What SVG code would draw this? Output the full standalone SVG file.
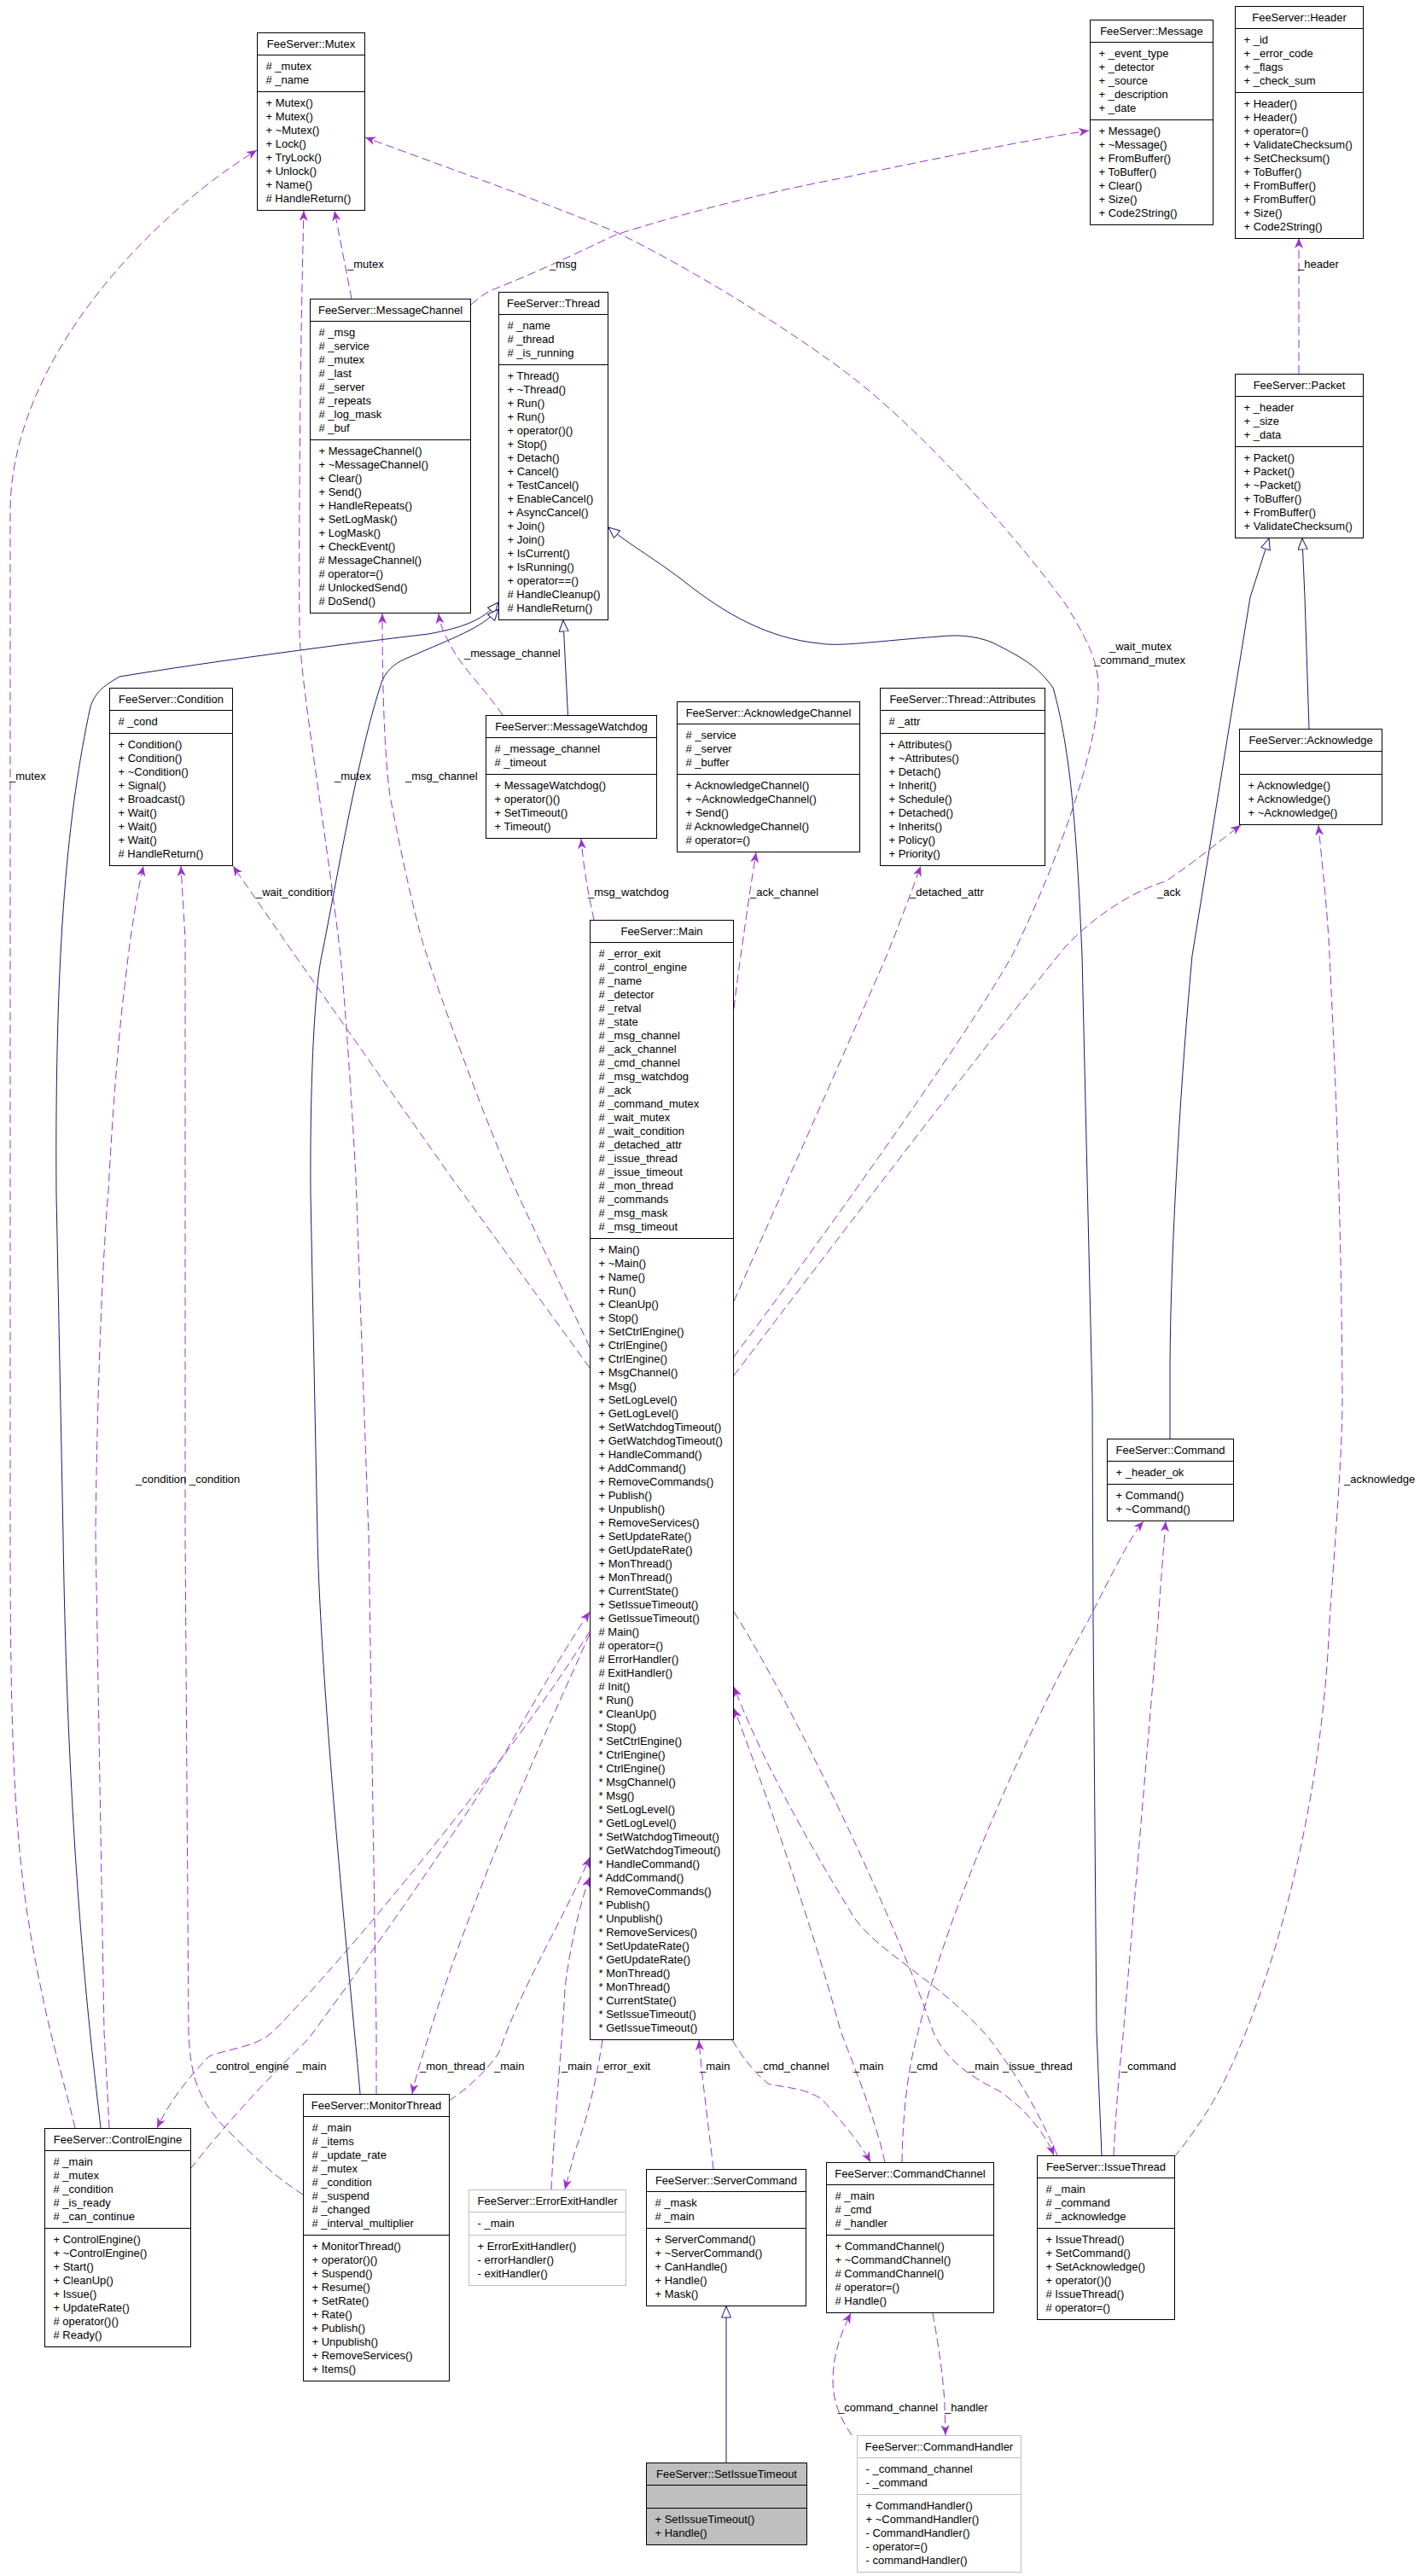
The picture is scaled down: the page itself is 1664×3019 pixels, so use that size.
<svg xmlns="http://www.w3.org/2000/svg" width="1664" height="3019" viewBox="0 0 1664 3019">
<style>
.t{font-family:"Liberation Sans",Arial,Helvetica,sans-serif;font-size:13px;fill:#000}
.c{text-anchor:middle}
.box{fill:#fff;stroke:#000;stroke-width:1}
.gb{fill:#fff;stroke:#bfbfbf;stroke-width:1}
.fill{fill:#bfbfbf;stroke:#000;stroke-width:1}
.sep{stroke:#000;stroke-width:1}
.gsep{stroke:#bfbfbf;stroke-width:1}
.e{fill:none;stroke:#9a32cd;stroke-width:1;stroke-dasharray:10,5;marker-end:url(#arr)}
.i{fill:none;stroke:#191970;stroke-width:1;marker-end:url(#tri)}
</style>
<defs>
<marker id="arr" viewBox="0 0 12 10" refX="12" refY="5" markerWidth="12" markerHeight="10" orient="auto" markerUnits="userSpaceOnUse"><path d="M0,0 L12,5 L0,10 L3.5,5 z" fill="#9a32cd"/></marker>
<marker id="tri" viewBox="0 0 14 12" refX="13.5" refY="6" markerWidth="14" markerHeight="12" orient="auto" markerUnits="userSpaceOnUse"><path d="M0.5,0.5 L13.5,6 L0.5,11.5 z" fill="#fff" stroke="#191970" stroke-width="1"/></marker>
</defs>
<rect x="0" y="0" width="1664" height="3019" fill="#fff"/>

<g id="edges">
<path class="i" d="M665.5,838.5 L660,727"/>
<path class="i" d="M118,2494 C110,2420 80,2200 74,1800 L66,1400 C64,1100 80,950 106,828 C112,812 118,806 140,793 C250,775 400,755 502,743 C540,736 565,728 584,706"/>
<path class="i" d="M422,2454 C418,2400 376,2000 372,1800 L364,1400 C363,1250 370,1150 377,1120 C395,1030 420,880 448,797 C456,782 465,776 480,770 C530,748 565,736 584,714"/>
<path class="i" d="M1291,2526 L1285,2380 L1281,1900 L1280,1640 L1268,1120 C1262,980 1255,880 1234,806 C1215,780 1200,772 1163,753 C1140,744 1120,744 1100,746 C1020,752 985,758 960,754 C900,748 850,720 800,680 C760,650 740,640 713,618"/>
<path class="i" d="M1371,1686 L1371,1600 C1372,1450 1385,1250 1397,1120 L1465,700 L1487,631"/>
<path class="i" d="M1534,854 L1529,700 L1526,631"/>
<path class="i" d="M851,2886 L851,2703"/>

<path class="e" d="M412,350 L392,247"/>
<path class="e" d="M441,2454 L441,2380 L432,1800 L417,1380 C410,1250 402,1150 399,1120 C380,960 352,800 351,740 C350,600 352,400 356,247"/>
<path class="e" d="M88,2494 C75,2440 60,2390 50,2340 C20,2200 12,2100 12,1800 L12,600 C12,420 180,250 301,176"/>
<path class="e" d="M860,1590 C950,1470 1130,1220 1186,1120 C1240,1010 1285,880 1287,813 C1288,780 1280,760 1250,710 C1200,640 1080,500 980,428 C900,370 800,310 722,272 C620,230 520,195 428,161"/>
<path class="e" d="M691,1579 C650,1490 620,1430 598,1380 C560,1290 520,1180 497,1110 C485,1070 470,1000 457,933 C450,880 448,800 448,719"/>
<path class="e" d="M589,838 C570,810 540,780 530,760 C522,745 516,735 514,719"/>
<path class="e" d="M552,357 C565,345 575,340 584,337 C650,310 700,285 722,275 C800,250 900,225 980,210 C1100,185 1200,165 1276,153"/>
<path class="e" d="M1522,438 L1522,279"/>
<path class="e" d="M696,1078 C690,1050 684,1020 681,983"/>
<path class="e" d="M860,1182 C866,1130 874,1080 878,1050 L886,999"/>
<path class="e" d="M860,1525 C920,1390 1000,1210 1039,1120 C1055,1080 1070,1040 1079,1015"/>
<path class="e" d="M860,1612 C930,1520 1150,1230 1248,1110 C1290,1065 1340,1040 1366,1033 C1400,1010 1430,985 1454,967"/>
<path class="e" d="M691,1603 L529,1380 L341,1113 L273,1015"/>
<path class="e" d="M128,2494 C126,2450 123,2400 122,2380 L112,1800 C114,1600 122,1450 127,1396 C132,1300 140,1200 147,1149 C152,1100 160,1050 168,1015"/>
<path class="e" d="M355,2572 C320,2550 290,2520 260,2490 C235,2460 223,2440 221,2380 L217,1800 L217,1100 L212,1015"/>
<path class="e" d="M691,1912 C600,2060 400,2300 321,2380 C300,2400 270,2400 245,2410 C225,2430 200,2460 184,2494"/>
<path class="e" d="M223,2542 C280,2470 330,2420 361,2390 C450,2270 560,2110 600,2040 C640,1970 670,1920 691,1889"/>
<path class="e" d="M691,1915 C640,2030 560,2200 502,2387 C495,2410 488,2430 483,2454"/>
<path class="e" d="M526,2462 C545,2450 570,2428 585,2405 C610,2330 660,2250 691,2177"/>
<path class="e" d="M646,2566 C650,2480 660,2380 662,2330 C668,2280 680,2230 691,2200"/>
<path class="e" d="M706,2391 C700,2430 690,2480 674,2520 L662,2566"/>
<path class="e" d="M836,2542 C830,2490 822,2430 819,2391"/>
<path class="e" d="M858,2391 C870,2410 880,2425 900,2442 C920,2447 940,2446 963,2460 C990,2490 1010,2515 1020,2534"/>
<path class="e" d="M1037,2534 C1025,2480 1000,2420 985,2380 C950,2250 890,2080 860,2002"/>
<path class="e" d="M1057,2534 C1058,2470 1065,2420 1075,2385 C1120,2200 1240,1960 1275,1900 C1300,1850 1325,1800 1340,1783"/>
<path class="e" d="M860,1889 C930,2000 1050,2250 1093,2380 C1110,2420 1150,2440 1170,2450 C1200,2470 1225,2500 1235,2526"/>
<path class="e" d="M1239,2526 C1215,2470 1190,2430 1160,2390 C1100,2320 1030,2290 1000,2246 C960,2180 900,2080 860,1977"/>
<path class="e" d="M1305,2526 C1308,2470 1312,2420 1316,2387 L1357,1900 C1360,1860 1363,1820 1366,1783"/>
<path class="e" d="M1376,2528 C1395,2505 1420,2470 1439,2430 C1500,2300 1550,2100 1558,1900 C1565,1800 1573,1700 1573,1640 C1572,1400 1562,1200 1558,1120 C1555,1060 1550,1020 1545,967"/>
<path class="e" d="M1093,2711 C1100,2750 1106,2790 1107,2820 L1108,2854"/>
<path class="e" d="M998,2854 C985,2835 976,2815 976,2790 C976,2760 985,2735 997,2711"/>

<g id="edge-labels">
<text class="t" x="407" y="314">_mutex</text>
<text class="t" x="644" y="314">_msg</text>
<text class="t" x="1521" y="314">_header</text>
<text class="t" x="544" y="770">_message_channel</text>
<text class="t" x="1300" y="762">_wait_mutex</text>
<text class="t" x="1282" y="778">_command_mutex</text>
<text class="t" x="11" y="914">_mutex</text>
<text class="t" x="392" y="914">_mutex</text>
<text class="t" x="475" y="914">_msg_channel</text>
<text class="t" x="300" y="1050">_wait_condition</text>
<text class="t" x="689" y="1050">_msg_watchdog</text>
<text class="t" x="879" y="1050">_ack_channel</text>
<text class="t" x="1066" y="1050">_detached_attr</text>
<text class="t" x="1356" y="1050">_ack</text>
<text class="t" x="159" y="1738">_condition</text>
<text class="t" x="222" y="1738">_condition</text>
<text class="t" x="1575" y="1738">_acknowledge</text>
<text class="t" x="246" y="2426">_control_engine</text>
<text class="t" x="347" y="2426">_main</text>
<text class="t" x="492" y="2426">_mon_thread</text>
<text class="t" x="579" y="2426">_main</text>
<text class="t" x="658" y="2426">_main</text>
<text class="t" x="700" y="2426">_error_exit</text>
<text class="t" x="820" y="2426">_main</text>
<text class="t" x="887" y="2426">_cmd_channel</text>
<text class="t" x="1000" y="2426">_main</text>
<text class="t" x="1067" y="2426">_cmd</text>
<text class="t" x="1135" y="2426">_main</text>
<text class="t" x="1175" y="2426">_issue_thread</text>
<text class="t" x="1314" y="2426">_command</text>
<text class="t" x="982" y="2826">_command_channel</text>
<text class="t" x="1107" y="2826">_handler</text>
</g>
</g>

<g id="n_mutex">
<rect class="box" x="301.5" y="38.5" width="126" height="208"/>
<line class="sep" x1="301.5" y1="64.5" x2="427.5" y2="64.5"/>
<line class="sep" x1="301.5" y1="107.5" x2="427.5" y2="107.5"/>
<text class="t c" x="364.5" y="56">FeeServer::Mutex</text>
<text class="t"><tspan x="311.5" y="82"># _mutex</tspan><tspan x="311.5" dy="16"># _name</tspan></text>
<text class="t"><tspan x="311.5" y="125">+ Mutex()</tspan><tspan x="311.5" dy="16">+ Mutex()</tspan><tspan x="311.5" dy="16">+ ~Mutex()</tspan><tspan x="311.5" dy="16">+ Lock()</tspan><tspan x="311.5" dy="16">+ TryLock()</tspan><tspan x="311.5" dy="16">+ Unlock()</tspan><tspan x="311.5" dy="16">+ Name()</tspan><tspan x="311.5" dy="16"># HandleReturn()</tspan></text>
</g>

<g id="n_message">
<rect class="box" x="1277.5" y="23.5" width="144" height="240"/>
<line class="sep" x1="1277.5" y1="49.5" x2="1421.5" y2="49.5"/>
<line class="sep" x1="1277.5" y1="140.5" x2="1421.5" y2="140.5"/>
<text class="t c" x="1349.5" y="41">FeeServer::Message</text>
<text class="t"><tspan x="1287.5" y="67">+ _event_type</tspan><tspan x="1287.5" dy="16">+ _detector</tspan><tspan x="1287.5" dy="16">+ _source</tspan><tspan x="1287.5" dy="16">+ _description</tspan><tspan x="1287.5" dy="16">+ _date</tspan></text>
<text class="t"><tspan x="1287.5" y="158">+ Message()</tspan><tspan x="1287.5" dy="16">+ ~Message()</tspan><tspan x="1287.5" dy="16">+ FromBuffer()</tspan><tspan x="1287.5" dy="16">+ ToBuffer()</tspan><tspan x="1287.5" dy="16">+ Clear()</tspan><tspan x="1287.5" dy="16">+ Size()</tspan><tspan x="1287.5" dy="16">+ Code2String()</tspan></text>
</g>

<g id="n_header">
<rect class="box" x="1447.5" y="7.5" width="150" height="272"/>
<line class="sep" x1="1447.5" y1="33.5" x2="1597.5" y2="33.5"/>
<line class="sep" x1="1447.5" y1="108.5" x2="1597.5" y2="108.5"/>
<text class="t c" x="1522.5" y="25">FeeServer::Header</text>
<text class="t"><tspan x="1457.5" y="51">+ _id</tspan><tspan x="1457.5" dy="16">+ _error_code</tspan><tspan x="1457.5" dy="16">+ _flags</tspan><tspan x="1457.5" dy="16">+ _check_sum</tspan></text>
<text class="t"><tspan x="1457.5" y="126">+ Header()</tspan><tspan x="1457.5" dy="16">+ Header()</tspan><tspan x="1457.5" dy="16">+ operator=()</tspan><tspan x="1457.5" dy="16">+ ValidateChecksum()</tspan><tspan x="1457.5" dy="16">+ SetChecksum()</tspan><tspan x="1457.5" dy="16">+ ToBuffer()</tspan><tspan x="1457.5" dy="16">+ FromBuffer()</tspan><tspan x="1457.5" dy="16">+ FromBuffer()</tspan><tspan x="1457.5" dy="16">+ Size()</tspan><tspan x="1457.5" dy="16">+ Code2String()</tspan></text>
</g>

<g id="n_packet">
<rect class="box" x="1447.5" y="438.5" width="150" height="192"/>
<line class="sep" x1="1447.5" y1="464.5" x2="1597.5" y2="464.5"/>
<line class="sep" x1="1447.5" y1="523.5" x2="1597.5" y2="523.5"/>
<text class="t c" x="1522.5" y="456">FeeServer::Packet</text>
<text class="t"><tspan x="1457.5" y="482">+ _header</tspan><tspan x="1457.5" dy="16">+ _size</tspan><tspan x="1457.5" dy="16">+ _data</tspan></text>
<text class="t"><tspan x="1457.5" y="541">+ Packet()</tspan><tspan x="1457.5" dy="16">+ Packet()</tspan><tspan x="1457.5" dy="16">+ ~Packet()</tspan><tspan x="1457.5" dy="16">+ ToBuffer()</tspan><tspan x="1457.5" dy="16">+ FromBuffer()</tspan><tspan x="1457.5" dy="16">+ ValidateChecksum()</tspan></text>
</g>

<g id="n_messagechannel">
<rect class="box" x="363.5" y="350.5" width="188" height="368"/>
<line class="sep" x1="363.5" y1="376.5" x2="551.5" y2="376.5"/>
<line class="sep" x1="363.5" y1="515.5" x2="551.5" y2="515.5"/>
<text class="t c" x="457.5" y="368">FeeServer::MessageChannel</text>
<text class="t"><tspan x="373.5" y="394"># _msg</tspan><tspan x="373.5" dy="16"># _service</tspan><tspan x="373.5" dy="16"># _mutex</tspan><tspan x="373.5" dy="16"># _last</tspan><tspan x="373.5" dy="16"># _server</tspan><tspan x="373.5" dy="16"># _repeats</tspan><tspan x="373.5" dy="16"># _log_mask</tspan><tspan x="373.5" dy="16"># _buf</tspan></text>
<text class="t"><tspan x="373.5" y="533">+ MessageChannel()</tspan><tspan x="373.5" dy="16">+ ~MessageChannel()</tspan><tspan x="373.5" dy="16">+ Clear()</tspan><tspan x="373.5" dy="16">+ Send()</tspan><tspan x="373.5" dy="16">+ HandleRepeats()</tspan><tspan x="373.5" dy="16">+ SetLogMask()</tspan><tspan x="373.5" dy="16">+ LogMask()</tspan><tspan x="373.5" dy="16">+ CheckEvent()</tspan><tspan x="373.5" dy="16"># MessageChannel()</tspan><tspan x="373.5" dy="16"># operator=()</tspan><tspan x="373.5" dy="16"># UnlockedSend()</tspan><tspan x="373.5" dy="16"># DoSend()</tspan></text>
</g>

<g id="n_thread">
<rect class="box" x="584.5" y="342.5" width="128" height="384"/>
<line class="sep" x1="584.5" y1="368.5" x2="712.5" y2="368.5"/>
<line class="sep" x1="584.5" y1="427.5" x2="712.5" y2="427.5"/>
<text class="t c" x="648.5" y="360">FeeServer::Thread</text>
<text class="t"><tspan x="594.5" y="386"># _name</tspan><tspan x="594.5" dy="16"># _thread</tspan><tspan x="594.5" dy="16"># _is_running</tspan></text>
<text class="t"><tspan x="594.5" y="445">+ Thread()</tspan><tspan x="594.5" dy="16">+ ~Thread()</tspan><tspan x="594.5" dy="16">+ Run()</tspan><tspan x="594.5" dy="16">+ Run()</tspan><tspan x="594.5" dy="16">+ operator()()</tspan><tspan x="594.5" dy="16">+ Stop()</tspan><tspan x="594.5" dy="16">+ Detach()</tspan><tspan x="594.5" dy="16">+ Cancel()</tspan><tspan x="594.5" dy="16">+ TestCancel()</tspan><tspan x="594.5" dy="16">+ EnableCancel()</tspan><tspan x="594.5" dy="16">+ AsyncCancel()</tspan><tspan x="594.5" dy="16">+ Join()</tspan><tspan x="594.5" dy="16">+ Join()</tspan><tspan x="594.5" dy="16">+ IsCurrent()</tspan><tspan x="594.5" dy="16">+ IsRunning()</tspan><tspan x="594.5" dy="16">+ operator==()</tspan><tspan x="594.5" dy="16"># HandleCleanup()</tspan><tspan x="594.5" dy="16"># HandleReturn()</tspan></text>
</g>

<g id="n_condition">
<rect class="box" x="128.5" y="806.5" width="144" height="208"/>
<line class="sep" x1="128.5" y1="832.5" x2="272.5" y2="832.5"/>
<line class="sep" x1="128.5" y1="859.5" x2="272.5" y2="859.5"/>
<text class="t c" x="200.5" y="824">FeeServer::Condition</text>
<text class="t"><tspan x="138.5" y="850"># _cond</tspan></text>
<text class="t"><tspan x="138.5" y="877">+ Condition()</tspan><tspan x="138.5" dy="16">+ Condition()</tspan><tspan x="138.5" dy="16">+ ~Condition()</tspan><tspan x="138.5" dy="16">+ Signal()</tspan><tspan x="138.5" dy="16">+ Broadcast()</tspan><tspan x="138.5" dy="16">+ Wait()</tspan><tspan x="138.5" dy="16">+ Wait()</tspan><tspan x="138.5" dy="16">+ Wait()</tspan><tspan x="138.5" dy="16"># HandleReturn()</tspan></text>
</g>

<g id="n_messagewatchdog">
<rect class="box" x="569.5" y="838.5" width="200" height="144"/>
<line class="sep" x1="569.5" y1="864.5" x2="769.5" y2="864.5"/>
<line class="sep" x1="569.5" y1="907.5" x2="769.5" y2="907.5"/>
<text class="t c" x="669.5" y="856">FeeServer::MessageWatchdog</text>
<text class="t"><tspan x="579.5" y="882"># _message_channel</tspan><tspan x="579.5" dy="16"># _timeout</tspan></text>
<text class="t"><tspan x="579.5" y="925">+ MessageWatchdog()</tspan><tspan x="579.5" dy="16">+ operator()()</tspan><tspan x="579.5" dy="16">+ SetTimeout()</tspan><tspan x="579.5" dy="16">+ Timeout()</tspan></text>
</g>

<g id="n_acknowledgechannel">
<rect class="box" x="793.5" y="822.5" width="214" height="176"/>
<line class="sep" x1="793.5" y1="848.5" x2="1007.5" y2="848.5"/>
<line class="sep" x1="793.5" y1="907.5" x2="1007.5" y2="907.5"/>
<text class="t c" x="900.5" y="840">FeeServer::AcknowledgeChannel</text>
<text class="t"><tspan x="803.5" y="866"># _service</tspan><tspan x="803.5" dy="16"># _server</tspan><tspan x="803.5" dy="16"># _buffer</tspan></text>
<text class="t"><tspan x="803.5" y="925">+ AcknowledgeChannel()</tspan><tspan x="803.5" dy="16">+ ~AcknowledgeChannel()</tspan><tspan x="803.5" dy="16">+ Send()</tspan><tspan x="803.5" dy="16"># AcknowledgeChannel()</tspan><tspan x="803.5" dy="16"># operator=()</tspan></text>
</g>

<g id="n_attributes">
<rect class="box" x="1031.5" y="806.5" width="193" height="208"/>
<line class="sep" x1="1031.5" y1="832.5" x2="1224.5" y2="832.5"/>
<line class="sep" x1="1031.5" y1="859.5" x2="1224.5" y2="859.5"/>
<text class="t c" x="1128" y="824">FeeServer::Thread::Attributes</text>
<text class="t"><tspan x="1041.5" y="850"># _attr</tspan></text>
<text class="t"><tspan x="1041.5" y="877">+ Attributes()</tspan><tspan x="1041.5" dy="16">+ ~Attributes()</tspan><tspan x="1041.5" dy="16">+ Detach()</tspan><tspan x="1041.5" dy="16">+ Inherit()</tspan><tspan x="1041.5" dy="16">+ Schedule()</tspan><tspan x="1041.5" dy="16">+ Detached()</tspan><tspan x="1041.5" dy="16">+ Inherits()</tspan><tspan x="1041.5" dy="16">+ Policy()</tspan><tspan x="1041.5" dy="16">+ Priority()</tspan></text>
</g>

<g id="n_acknowledge">
<rect class="box" x="1452.5" y="854.5" width="167" height="112"/>
<line class="sep" x1="1452.5" y1="880.5" x2="1619.5" y2="880.5"/>
<line class="sep" x1="1452.5" y1="907.5" x2="1619.5" y2="907.5"/>
<text class="t c" x="1536" y="872">FeeServer::Acknowledge</text>
<text class="t"><tspan x="1462.5" y="925">+ Acknowledge()</tspan><tspan x="1462.5" dy="16">+ Acknowledge()</tspan><tspan x="1462.5" dy="16">+ ~Acknowledge()</tspan></text>
</g>

<g id="n_main">
<rect class="box" x="691.5" y="1078.5" width="168" height="1312"/>
<line class="sep" x1="691.5" y1="1104.5" x2="859.5" y2="1104.5"/>
<line class="sep" x1="691.5" y1="1451.5" x2="859.5" y2="1451.5"/>
<text class="t c" x="775.5" y="1096">FeeServer::Main</text>
<text class="t"><tspan x="701.5" y="1122"># _error_exit</tspan><tspan x="701.5" dy="16"># _control_engine</tspan><tspan x="701.5" dy="16"># _name</tspan><tspan x="701.5" dy="16"># _detector</tspan><tspan x="701.5" dy="16"># _retval</tspan><tspan x="701.5" dy="16"># _state</tspan><tspan x="701.5" dy="16"># _msg_channel</tspan><tspan x="701.5" dy="16"># _ack_channel</tspan><tspan x="701.5" dy="16"># _cmd_channel</tspan><tspan x="701.5" dy="16"># _msg_watchdog</tspan><tspan x="701.5" dy="16"># _ack</tspan><tspan x="701.5" dy="16"># _command_mutex</tspan><tspan x="701.5" dy="16"># _wait_mutex</tspan><tspan x="701.5" dy="16"># _wait_condition</tspan><tspan x="701.5" dy="16"># _detached_attr</tspan><tspan x="701.5" dy="16"># _issue_thread</tspan><tspan x="701.5" dy="16"># _issue_timeout</tspan><tspan x="701.5" dy="16"># _mon_thread</tspan><tspan x="701.5" dy="16"># _commands</tspan><tspan x="701.5" dy="16"># _msg_mask</tspan><tspan x="701.5" dy="16"># _msg_timeout</tspan></text>
<text class="t"><tspan x="701.5" y="1469">+ Main()</tspan><tspan x="701.5" dy="16">+ ~Main()</tspan><tspan x="701.5" dy="16">+ Name()</tspan><tspan x="701.5" dy="16">+ Run()</tspan><tspan x="701.5" dy="16">+ CleanUp()</tspan><tspan x="701.5" dy="16">+ Stop()</tspan><tspan x="701.5" dy="16">+ SetCtrlEngine()</tspan><tspan x="701.5" dy="16">+ CtrlEngine()</tspan><tspan x="701.5" dy="16">+ CtrlEngine()</tspan><tspan x="701.5" dy="16">+ MsgChannel()</tspan><tspan x="701.5" dy="16">+ Msg()</tspan><tspan x="701.5" dy="16">+ SetLogLevel()</tspan><tspan x="701.5" dy="16">+ GetLogLevel()</tspan><tspan x="701.5" dy="16">+ SetWatchdogTimeout()</tspan><tspan x="701.5" dy="16">+ GetWatchdogTimeout()</tspan><tspan x="701.5" dy="16">+ HandleCommand()</tspan><tspan x="701.5" dy="16">+ AddCommand()</tspan><tspan x="701.5" dy="16">+ RemoveCommands()</tspan><tspan x="701.5" dy="16">+ Publish()</tspan><tspan x="701.5" dy="16">+ Unpublish()</tspan><tspan x="701.5" dy="16">+ RemoveServices()</tspan><tspan x="701.5" dy="16">+ SetUpdateRate()</tspan><tspan x="701.5" dy="16">+ GetUpdateRate()</tspan><tspan x="701.5" dy="16">+ MonThread()</tspan><tspan x="701.5" dy="16">+ MonThread()</tspan><tspan x="701.5" dy="16">+ CurrentState()</tspan><tspan x="701.5" dy="16">+ SetIssueTimeout()</tspan><tspan x="701.5" dy="16">+ GetIssueTimeout()</tspan><tspan x="701.5" dy="16"># Main()</tspan><tspan x="701.5" dy="16"># operator=()</tspan><tspan x="701.5" dy="16"># ErrorHandler()</tspan><tspan x="701.5" dy="16"># ExitHandler()</tspan><tspan x="701.5" dy="16"># Init()</tspan><tspan x="701.5" dy="16">* Run()</tspan><tspan x="701.5" dy="16">* CleanUp()</tspan><tspan x="701.5" dy="16">* Stop()</tspan><tspan x="701.5" dy="16">* SetCtrlEngine()</tspan><tspan x="701.5" dy="16">* CtrlEngine()</tspan><tspan x="701.5" dy="16">* CtrlEngine()</tspan><tspan x="701.5" dy="16">* MsgChannel()</tspan><tspan x="701.5" dy="16">* Msg()</tspan><tspan x="701.5" dy="16">* SetLogLevel()</tspan><tspan x="701.5" dy="16">* GetLogLevel()</tspan><tspan x="701.5" dy="16">* SetWatchdogTimeout()</tspan><tspan x="701.5" dy="16">* GetWatchdogTimeout()</tspan><tspan x="701.5" dy="16">* HandleCommand()</tspan><tspan x="701.5" dy="16">* AddCommand()</tspan><tspan x="701.5" dy="16">* RemoveCommands()</tspan><tspan x="701.5" dy="16">* Publish()</tspan><tspan x="701.5" dy="16">* Unpublish()</tspan><tspan x="701.5" dy="16">* RemoveServices()</tspan><tspan x="701.5" dy="16">* SetUpdateRate()</tspan><tspan x="701.5" dy="16">* GetUpdateRate()</tspan><tspan x="701.5" dy="16">* MonThread()</tspan><tspan x="701.5" dy="16">* MonThread()</tspan><tspan x="701.5" dy="16">* CurrentState()</tspan><tspan x="701.5" dy="16">* SetIssueTimeout()</tspan><tspan x="701.5" dy="16">* GetIssueTimeout()</tspan></text>
</g>

<g id="n_command">
<rect class="box" x="1297.5" y="1686.5" width="148" height="96"/>
<line class="sep" x1="1297.5" y1="1712.5" x2="1445.5" y2="1712.5"/>
<line class="sep" x1="1297.5" y1="1739.5" x2="1445.5" y2="1739.5"/>
<text class="t c" x="1371.5" y="1704">FeeServer::Command</text>
<text class="t"><tspan x="1307.5" y="1730">+ _header_ok</tspan></text>
<text class="t"><tspan x="1307.5" y="1757">+ Command()</tspan><tspan x="1307.5" dy="16">+ ~Command()</tspan></text>
</g>

<g id="n_controlengine">
<rect class="box" x="52.5" y="2494.5" width="171" height="256"/>
<line class="sep" x1="52.5" y1="2520.5" x2="223.5" y2="2520.5"/>
<line class="sep" x1="52.5" y1="2611.5" x2="223.5" y2="2611.5"/>
<text class="t c" x="138" y="2512">FeeServer::ControlEngine</text>
<text class="t"><tspan x="62.5" y="2538"># _main</tspan><tspan x="62.5" dy="16"># _mutex</tspan><tspan x="62.5" dy="16"># _condition</tspan><tspan x="62.5" dy="16"># _is_ready</tspan><tspan x="62.5" dy="16"># _can_continue</tspan></text>
<text class="t"><tspan x="62.5" y="2629">+ ControlEngine()</tspan><tspan x="62.5" dy="16">+ ~ControlEngine()</tspan><tspan x="62.5" dy="16">+ Start()</tspan><tspan x="62.5" dy="16">+ CleanUp()</tspan><tspan x="62.5" dy="16">+ Issue()</tspan><tspan x="62.5" dy="16">+ UpdateRate()</tspan><tspan x="62.5" dy="16"># operator()()</tspan><tspan x="62.5" dy="16"># Ready()</tspan></text>
</g>

<g id="n_monitorthread">
<rect class="box" x="355.5" y="2454.5" width="171" height="336"/>
<line class="sep" x1="355.5" y1="2480.5" x2="526.5" y2="2480.5"/>
<line class="sep" x1="355.5" y1="2619.5" x2="526.5" y2="2619.5"/>
<text class="t c" x="441" y="2472">FeeServer::MonitorThread</text>
<text class="t"><tspan x="365.5" y="2498"># _main</tspan><tspan x="365.5" dy="16"># _items</tspan><tspan x="365.5" dy="16"># _update_rate</tspan><tspan x="365.5" dy="16"># _mutex</tspan><tspan x="365.5" dy="16"># _condition</tspan><tspan x="365.5" dy="16"># _suspend</tspan><tspan x="365.5" dy="16"># _changed</tspan><tspan x="365.5" dy="16"># _interval_multiplier</tspan></text>
<text class="t"><tspan x="365.5" y="2637">+ MonitorThread()</tspan><tspan x="365.5" dy="16">+ operator()()</tspan><tspan x="365.5" dy="16">+ Suspend()</tspan><tspan x="365.5" dy="16">+ Resume()</tspan><tspan x="365.5" dy="16">+ SetRate()</tspan><tspan x="365.5" dy="16">+ Rate()</tspan><tspan x="365.5" dy="16">+ Publish()</tspan><tspan x="365.5" dy="16">+ Unpublish()</tspan><tspan x="365.5" dy="16">+ RemoveServices()</tspan><tspan x="365.5" dy="16">+ Items()</tspan></text>
</g>

<g id="n_errorexithandler">
<rect class="gb" x="549.5" y="2566.5" width="184" height="112"/>
<line class="gsep" x1="549.5" y1="2592.5" x2="733.5" y2="2592.5"/>
<line class="gsep" x1="549.5" y1="2619.5" x2="733.5" y2="2619.5"/>
<text class="t c" x="641.5" y="2584">FeeServer::ErrorExitHandler</text>
<text class="t"><tspan x="559.5" y="2610">- _main</tspan></text>
<text class="t"><tspan x="559.5" y="2637">+ ErrorExitHandler()</tspan><tspan x="559.5" dy="16">- errorHandler()</tspan><tspan x="559.5" dy="16">- exitHandler()</tspan></text>
</g>

<g id="n_servercommand">
<rect class="box" x="757.5" y="2542.5" width="187" height="160"/>
<line class="sep" x1="757.5" y1="2568.5" x2="944.5" y2="2568.5"/>
<line class="sep" x1="757.5" y1="2611.5" x2="944.5" y2="2611.5"/>
<text class="t c" x="851" y="2560">FeeServer::ServerCommand</text>
<text class="t"><tspan x="767.5" y="2586"># _mask</tspan><tspan x="767.5" dy="16"># _main</tspan></text>
<text class="t"><tspan x="767.5" y="2629">+ ServerCommand()</tspan><tspan x="767.5" dy="16">+ ~ServerCommand()</tspan><tspan x="767.5" dy="16">+ CanHandle()</tspan><tspan x="767.5" dy="16">+ Handle()</tspan><tspan x="767.5" dy="16">+ Mask()</tspan></text>
</g>

<g id="n_commandchannel">
<rect class="box" x="968.5" y="2534.5" width="196" height="176"/>
<line class="sep" x1="968.5" y1="2560.5" x2="1164.5" y2="2560.5"/>
<line class="sep" x1="968.5" y1="2619.5" x2="1164.5" y2="2619.5"/>
<text class="t c" x="1066.5" y="2552">FeeServer::CommandChannel</text>
<text class="t"><tspan x="978.5" y="2578"># _main</tspan><tspan x="978.5" dy="16"># _cmd</tspan><tspan x="978.5" dy="16"># _handler</tspan></text>
<text class="t"><tspan x="978.5" y="2637">+ CommandChannel()</tspan><tspan x="978.5" dy="16">+ ~CommandChannel()</tspan><tspan x="978.5" dy="16"># CommandChannel()</tspan><tspan x="978.5" dy="16"># operator=()</tspan><tspan x="978.5" dy="16"># Handle()</tspan></text>
</g>

<g id="n_issuethread">
<rect class="box" x="1215.5" y="2526.5" width="161" height="192"/>
<line class="sep" x1="1215.5" y1="2552.5" x2="1376.5" y2="2552.5"/>
<line class="sep" x1="1215.5" y1="2611.5" x2="1376.5" y2="2611.5"/>
<text class="t c" x="1296" y="2544">FeeServer::IssueThread</text>
<text class="t"><tspan x="1225.5" y="2570"># _main</tspan><tspan x="1225.5" dy="16"># _command</tspan><tspan x="1225.5" dy="16"># _acknowledge</tspan></text>
<text class="t"><tspan x="1225.5" y="2629">+ IssueThread()</tspan><tspan x="1225.5" dy="16">+ SetCommand()</tspan><tspan x="1225.5" dy="16">+ SetAcknowledge()</tspan><tspan x="1225.5" dy="16">+ operator()()</tspan><tspan x="1225.5" dy="16"># IssueThread()</tspan><tspan x="1225.5" dy="16"># operator=()</tspan></text>
</g>

<g id="n_setissuetimeout">
<rect class="fill" x="757.5" y="2886.5" width="188" height="96"/>
<line class="sep" x1="757.5" y1="2912.5" x2="945.5" y2="2912.5"/>
<line class="sep" x1="757.5" y1="2939.5" x2="945.5" y2="2939.5"/>
<text class="t c" x="851.5" y="2904">FeeServer::SetIssueTimeout</text>
<text class="t"><tspan x="767.5" y="2957">+ SetIssueTimeout()</tspan><tspan x="767.5" dy="16">+ Handle()</tspan></text>
</g>

<g id="n_commandhandler">
<rect class="gb" x="1004.5" y="2854.5" width="192" height="160"/>
<line class="gsep" x1="1004.5" y1="2880.5" x2="1196.5" y2="2880.5"/>
<line class="gsep" x1="1004.5" y1="2923.5" x2="1196.5" y2="2923.5"/>
<text class="t c" x="1100.5" y="2872">FeeServer::CommandHandler</text>
<text class="t"><tspan x="1014.5" y="2898">- _command_channel</tspan><tspan x="1014.5" dy="16">- _command</tspan></text>
<text class="t"><tspan x="1014.5" y="2941">+ CommandHandler()</tspan><tspan x="1014.5" dy="16">+ ~CommandHandler()</tspan><tspan x="1014.5" dy="16">- CommandHandler()</tspan><tspan x="1014.5" dy="16">- operator=()</tspan><tspan x="1014.5" dy="16">- commandHandler()</tspan></text>
</g>
</svg>
